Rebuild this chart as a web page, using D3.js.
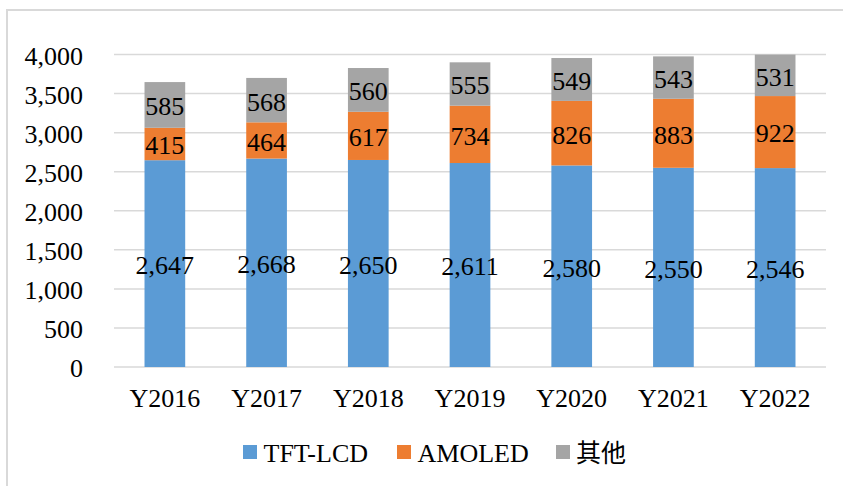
<!DOCTYPE html>
<html>
<head>
<meta charset="utf-8">
<script src="https://cdn.jsdelivr.net/npm/d3@7"></script>
<style>
  html, body { margin: 0; padding: 0; background: #fff; }
  svg { display: block; }
</style>
</head>
<body>
<svg id="chart" width="843" height="486"></svg>
<script>
// Display shipments by technology, stacked per year
const years = ["Y2016", "Y2017", "Y2018", "Y2019", "Y2020", "Y2021", "Y2022"];
const tftLcd = [2647, 2668, 2650, 2611, 2580, 2550, 2546];
const amoled = [415, 464, 617, 734, 826, 883, 922];
const others = [585, 568, 560, 555, 549, 543, 531];
const seriesNames = ["TFT-LCD", "AMOLED", "其他"];
const seriesColors = ["#5B9BD5", "#ED7D31", "#A5A5A5"];
const yTicks = [0, 500, 1000, 1500, 2000, 2500, 3000, 3500, 4000];

const svg = d3.select("#chart");
const W = 843, H = 486;
const margin = { left: 114, right: 17, top: 54.5, bottom: 119 };
const serif = "'Liberation Serif', 'Times New Roman', serif";
const fontSize = 26;

// Frame of the chart area (top and left edges)
svg.append("path")
  .attr("d", `M7,${H} L7,10 L${W},10`)
  .attr("fill", "none")
  .attr("stroke", "#D9D9D9")
  .attr("stroke-width", 2);

const x = d3.scaleBand()
  .domain(years)
  .range([margin.left, W - margin.right])
  .paddingInner(0.6)
  .paddingOuter(0.3);

const y = d3.scaleLinear()
  .domain([0, 4000])
  .range([H - margin.bottom, margin.top]);

// Horizontal gridlines
svg.append("g")
  .selectAll("line")
  .data(yTicks)
  .join("line")
  .attr("x1", margin.left)
  .attr("x2", W - margin.right)
  .attr("y1", d => y(d))
  .attr("y2", d => y(d))
  .attr("stroke", "#D9D9D9")
  .attr("stroke-width", 1.5);

// Y axis labels
const yAxis = d3.axisLeft(y)
  .tickValues(yTicks)
  .tickFormat(d3.format(","))
  .tickSize(0)
  .tickPadding(0);
const gy = svg.append("g")
  .attr("transform", `translate(83,0)`)
  .call(yAxis);
gy.select(".domain").remove();
gy.selectAll("text")
  .attr("font-family", serif)
  .attr("font-size", fontSize)
  .attr("fill", "#000")
  .attr("dy", "0.38em");

// X axis labels
const xAxis = d3.axisBottom(x).tickSize(0).tickPadding(0);
const gx = svg.append("g")
  .attr("transform", `translate(0,407)`)
  .call(xAxis);
gx.select(".domain").remove();
gx.selectAll("text")
  .attr("font-family", serif)
  .attr("font-size", fontSize)
  .attr("fill", "#000")
  .attr("y", 0)
  .attr("dy", 0);

// Stacked bars
const rows = years.map((yr, i) => ({
  year: yr, "TFT-LCD": tftLcd[i], "AMOLED": amoled[i], "其他": others[i]
}));
const stacked = d3.stack().keys(seriesNames)(rows);

const layers = svg.append("g")
  .selectAll("g")
  .data(stacked)
  .join("g")
  .attr("fill", (d, i) => seriesColors[i]);

layers.selectAll("rect")
  .data(d => d)
  .join("rect")
  .attr("x", d => x(d.data.year))
  .attr("width", x.bandwidth())
  .attr("y", d => y(d[1]))
  .attr("height", d => y(d[0]) - y(d[1]));

// Value labels centred in each segment
layers.selectAll("text")
  .data(d => d.map(s => ({ s, key: d.key })))
  .join("text")
  .attr("x", d => x(d.s.data.year) + x.bandwidth() / 2)
  .attr("y", d => y((d.s[0] + d.s[1]) / 2))
  .attr("dy", "0.4em")
  .attr("text-anchor", "middle")
  .attr("font-family", serif)
  .attr("font-size", fontSize)
  .attr("fill", "#000")
  .text(d => d3.format(",")(d.s.data[d.key]));

// Legend
const legendY = 452;
const legendItems = [
  { name: seriesNames[0], color: seriesColors[0], x: 243, font: serif },
  { name: seriesNames[1], color: seriesColors[1], x: 397, font: serif },
  { name: seriesNames[2], color: seriesColors[2], x: 556, font: "'Noto Sans CJK SC', sans-serif" }
];
const lg = svg.append("g")
  .selectAll("g")
  .data(legendItems)
  .join("g")
  .attr("transform", d => `translate(${d.x},${legendY})`);
lg.append("rect")
  .attr("x", 0).attr("y", -7)
  .attr("width", 14).attr("height", 14)
  .attr("fill", d => d.color);
lg.append("text")
  .attr("x", d => d.name === "其他" ? 20 : 20.5)
  .attr("y", 9.5)
  .attr("font-family", d => d.font)
  .attr("font-size", d => d.name === "其他" ? 25 : fontSize)
  .attr("fill", "#000")
  .text(d => d.name);
</script>
</body>
</html>
